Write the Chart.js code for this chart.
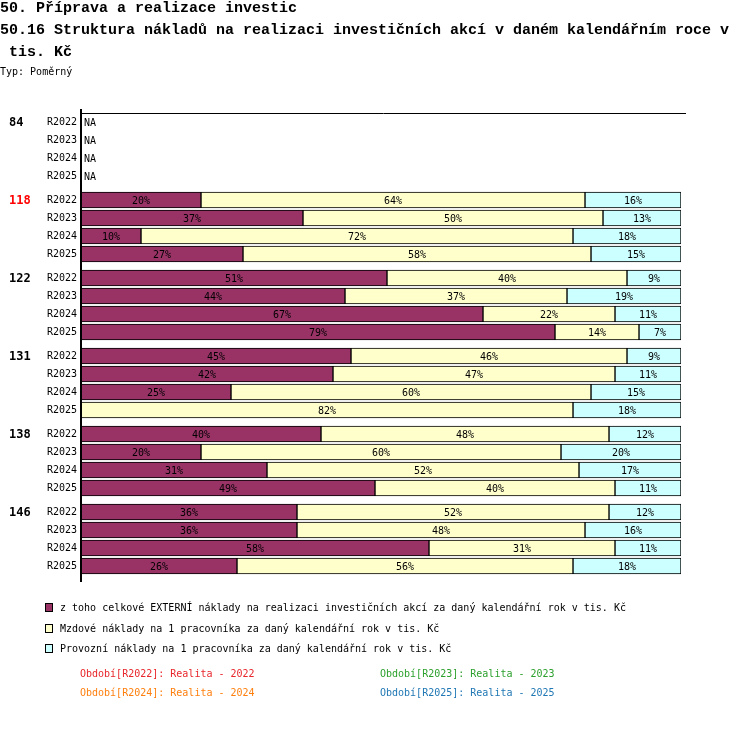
<!DOCTYPE html>
<html lang="cs">
<head>
    <meta charset="UTF-8">
    <title>50.16 Struktura nákladů</title>
    <script src="https://cdn.jsdelivr.net/npm/chart.js"></script>
    <style>
        body {
            margin: 0;
            background: #fff;
            font-family: "DejaVu Sans Mono", monospace;
        }
        .page {
            position: relative;
            width: 750px;
            height: 752px;
        }
        canvas {
            position: absolute;
            left: 0;
            top: 0;
        }
        .t {
            position: absolute;
            left: 0;
            white-space: pre;
            font-family: "Liberation Mono", monospace;
            font-weight: bold;
            font-size: 15px;
            line-height: 18px;
        }
        .small {
            position: absolute;
            white-space: pre;
            font-size: 10px;
            line-height: 12px;
        }
        .box {
            position: absolute;
            width: 6px;
            height: 7px;
            border: 1px solid #000;
        }
    </style>
</head>
<body>
<div class="page">
    <canvas id="chart" width="750" height="752"></canvas>

    <div class="t" style="top:0px">50. Příprava a realizace investic</div>
    <div class="t" style="top:22px">50.16 Struktura nákladů na realizaci investičních akcí v daném kalendářním roce v</div>
    <div class="t" style="top:44px"> tis. Kč</div>
    <div class="small" style="left:0;top:66px">Typ: Poměrný</div>

    <!-- legend -->
    <div class="box" style="left:45px;top:603px;background:#993366"></div>
    <div class="small" style="left:60px;top:602px">z toho celkové EXTERNÍ náklady na realizaci investičních akcí za daný kalendářní rok v tis. Kč</div>
    <div class="box" style="left:45px;top:624px;background:#ffffcc"></div>
    <div class="small" style="left:60px;top:623px">Mzdové náklady na 1 pracovníka za daný kalendářní rok v tis. Kč</div>
    <div class="box" style="left:45px;top:644px;background:#ccffff"></div>
    <div class="small" style="left:60px;top:643px">Provozní náklady na 1 pracovníka za daný kalendářní rok v tis. Kč</div>

    <div class="small" style="left:80px;top:668px;color:#e8262b">Období[R2022]: Realita - 2022</div>
    <div class="small" style="left:380px;top:668px;color:#2ca02c">Období[R2023]: Realita - 2023</div>
    <div class="small" style="left:80px;top:687px;color:#ff7f0e">Období[R2024]: Realita - 2024</div>
    <div class="small" style="left:380px;top:687px;color:#1f77b4">Období[R2025]: Realita - 2025</div>
</div>

<script>
    // Categories
    const groups = ['84', '118', '122', '131', '138', '146'];
    const groupColors = ['#000', '#ff0000', '#000', '#000', '#000', '#000'];
    const periods = ['R2022', 'R2023', 'R2024', 'R2025'];

    // Series values in %, one per group x period (84 has no data)
    const externi = [
        null, null, null, null,
        20, 37, 10, 27,
        51, 44, 67, 79,
        45, 42, 25, 0,
        40, 20, 31, 49,
        36, 36, 58, 26
    ];
    const mzdove = [
        null, null, null, null,
        64, 50, 72, 58,
        40, 37, 22, 14,
        46, 47, 60, 82,
        48, 60, 52, 40,
        52, 48, 31, 56
    ];
    const provozni = [
        null, null, null, null,
        16, 13, 18, 15,
        9, 19, 11, 7,
        9, 11, 15, 18,
        12, 20, 17, 11,
        12, 16, 11, 18
    ];

    // row position on the y scale: one unit per period, a third of a unit between groups
    const groupStep = periods.length + 1 / 3;
    const rowPos = [];
    groups.forEach((g, gi) => {
        periods.forEach((p, pi) => rowPos.push(gi * groupStep + pi + 0.5));
    });

    function toPoints(values) {
        return values.map((v, i) => ({ x: v === 0 ? null : v, y: rowPos[i] }));
    }

    const FONT = '"DejaVu Sans Mono", monospace';

    // percentage labels, NA labels, group labels, axis lines
    const extras = {
        id: 'extras',
        afterDatasetsDraw(chart) {
            const ctx = chart.ctx;
            const area = chart.chartArea;
            const y = chart.scales.y;
            ctx.save();
            ctx.fillStyle = '#000';
            ctx.font = '10px ' + FONT;
            ctx.textAlign = 'center';
            ctx.textBaseline = 'middle';
            chart.data.datasets.forEach((ds, di) => {
                chart.getDatasetMeta(di).data.forEach((bar, i) => {
                    const v = ds.data[i].x;
                    if (!v) return;
                    ctx.fillText(v + '%', (bar.x + bar.base) / 2, bar.y + 1);
                });
            });

            ctx.textAlign = 'left';
            rowPos.forEach((pos, i) => {
                if (externi[i] === null && mzdove[i] === null && provozni[i] === null) {
                    ctx.fillText('NA', area.left + 3, y.getPixelForValue(pos) + 1);
                }
            });

            ctx.font = 'bold 12px ' + FONT;
            groups.forEach((g, gi) => {
                ctx.fillStyle = groupColors[gi];
                ctx.fillText(g, 9, y.getPixelForValue(rowPos[gi * periods.length]) + 1);
            });

            ctx.strokeStyle = '#000';
            ctx.lineWidth = 1;
            ctx.beginPath();
            ctx.moveTo(area.left, area.top + 0.5);
            ctx.lineTo(area.right + 5, area.top + 0.5);
            ctx.stroke();
            ctx.lineWidth = 2;
            ctx.beginPath();
            ctx.moveTo(area.left, area.top - 4);
            ctx.lineTo(area.left, area.bottom + 1);
            ctx.stroke();
            ctx.restore();
        }
    };

    const commonBar = {
        borderColor: '#000',
        borderWidth: 1,
        borderSkipped: false,
        barThickness: 16
    };

    new Chart(document.getElementById('chart'), {
        type: 'bar',
        data: {
            datasets: [
                Object.assign({ label: 'externi', data: toPoints(externi), backgroundColor: '#993366' }, commonBar),
                Object.assign({ label: 'mzdove', data: toPoints(mzdove), backgroundColor: '#ffffcc' }, commonBar),
                Object.assign({ label: 'provozni', data: toPoints(provozni), backgroundColor: '#ccffff' }, commonBar)
            ]
        },
        options: {
            indexAxis: 'y',
            responsive: false,
            animation: false,
            layout: { padding: { top: 113, right: 69, bottom: 171, left: 0 } },
            plugins: {
                legend: { display: false },
                tooltip: { enabled: false }
            },
            scales: {
                x: {
                    stacked: true,
                    min: 0,
                    max: 100,
                    display: false
                },
                y: {
                    type: 'linear',
                    stacked: true,
                    reverse: true,
                    offset: false,
                    min: 0,
                    max: groups.length * groupStep,
                    afterBuildTicks(scale) {
                        scale.ticks = rowPos.map(v => ({ value: v }));
                    },
                    afterFit(scale) {
                        scale.width = 81;
                    },
                    grid: { display: false, drawTicks: false },
                    border: { display: false },
                    ticks: {
                        autoSkip: false,
                        padding: 4,
                        color: '#000',
                        font: { family: FONT, size: 10 },
                        callback: (value, index) => periods[index % periods.length]
                    }
                }
            }
        },
        plugins: [extras]
    });
</script>
</body>
</html>
